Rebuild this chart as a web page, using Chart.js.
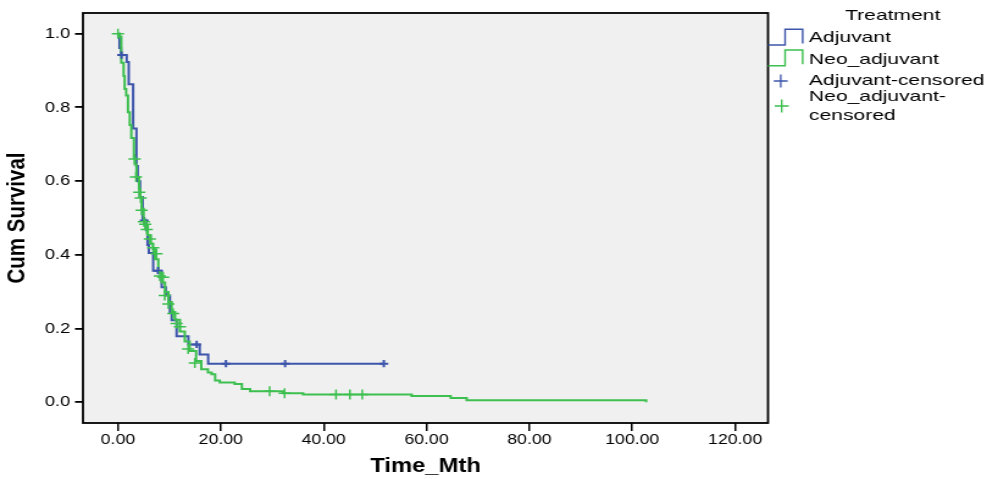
<!DOCTYPE html>
<html>
<head>
<meta charset="utf-8">
<title>Cum Survival - Time_Mth</title>
<script src="https://cdn.jsdelivr.net/npm/chart.js@4.4.0/dist/chart.umd.min.js"></script>
<style>
  html, body { margin: 0; padding: 0; background: #fff; }
  #km { display: block; }
</style>
</head>
<body>
<canvas id="km" width="818" height="479" style="width:998px;height:479px"></canvas>
<script>
// Données (temps en mois, survie cumulée)
const adjTime = [0, 0.3, 0.6, 1.7, 2.1, 2.95, 3.6, 3.85, 4.3, 4.8, 5.5, 5.75, 6.0, 6.85, 8.5, 9.3, 10.1, 10.45, 11.4, 13.7, 15.9, 17.55, 51.7];
const adjSurv = [1.0, 0.961, 0.942, 0.923, 0.863, 0.743, 0.641, 0.6, 0.557, 0.493, 0.467, 0.427, 0.405, 0.357, 0.312, 0.29, 0.245, 0.223, 0.179, 0.157, 0.13, 0.105, 0.105];

const neoTime = [0, 0.3, 0.65, 1.1, 1.3, 1.6, 1.95, 2.3, 2.6, 3.1, 3.3, 3.6, 4.1, 4.3, 4.6, 5.0, 5.4, 5.8, 6.4, 6.8, 7.2, 7.85, 8.5, 9.15, 9.8, 10.45, 11.1, 12.05, 13.0, 13.95, 15.2, 16.2, 17.5, 18.2, 18.9, 19.8, 22.7, 24.1, 25.7, 32.1, 36.0, 57.1, 64.7, 67.8, 102.7];
const neoSurv = [1.0, 0.992, 0.921, 0.885, 0.85, 0.832, 0.787, 0.752, 0.717, 0.664, 0.645, 0.611, 0.579, 0.557, 0.525, 0.495, 0.478, 0.453, 0.43, 0.416, 0.388, 0.352, 0.325, 0.299, 0.272, 0.245, 0.224, 0.192, 0.165, 0.139, 0.112, 0.09, 0.081, 0.076, 0.059, 0.054, 0.05, 0.036, 0.03, 0.025, 0.021, 0.017, 0.0115, 0.006, 0];

// Observations censurées
const adjCensTime = [0.7, 5.1, 7.8, 15.3, 21.0, 32.5, 51.7];
const adjCensSurv = [0.942, 0.493, 0.357, 0.157, 0.105, 0.105, 0.105];
const neoCensTime = [0, 3.24, 3.5, 4.14, 4.41, 4.6, 5.05, 5.3, 5.6, 6.2, 6.85, 7.5, 8.15, 8.8, 9.1, 9.8, 10.75, 11.4, 12.05, 13.65, 14.95, 29.5, 32.4, 42.4, 45.1, 47.5];
const neoCensSurv = [1.0, 0.66, 0.611, 0.57, 0.554, 0.521, 0.49, 0.483, 0.469, 0.443, 0.419, 0.403, 0.343, 0.339, 0.29, 0.267, 0.241, 0.214, 0.205, 0.145, 0.107, 0.03, 0.025, 0.021, 0.021, 0.021];

const xTicks = [0, 20, 40, 60, 80, 100, 120];
const yTicks = [0, 0.2, 0.4, 0.6, 0.8, 1.0];

const legendTitle = "Treatment";
const legendLabels = ["Adjuvant", "Neo_adjuvant", "Adjuvant-censored", ["Neo_adjuvant-", "censored"]];

const BLUE = "#3d55ab";
const GREEN = "#3cbf4e";
const FONT = "'Liberation Sans', Arial, sans-serif";

function toPoints(xs, ys) {
  return xs.map((x, i) => ({ x: x, y: ys[i] }));
}

// Fond gris, cadre et légende
const framePlugin = {
  id: "frame",
  beforeDraw(chart) {
    const ctx = chart.ctx;
    const a = chart.chartArea;
    ctx.save();
    ctx.fillStyle = "#fff";
    ctx.fillRect(0, 0, chart.width, chart.height);
    ctx.fillStyle = "#f0f0f0";
    ctx.fillRect(a.left, a.top, a.right - a.left, a.bottom - a.top);
    ctx.restore();
  },
  afterDraw(chart) {
    const ctx = chart.ctx;
    const a = chart.chartArea;
    ctx.save();
    ctx.strokeStyle = "#000";
    ctx.lineWidth = 1.8;
    ctx.strokeRect(a.left, a.top, a.right - a.left, a.bottom - a.top);

    const x0 = a.right;
    const textX = x0 + 33.6;

    function stepIcon(color, yb, yt) {
      ctx.beginPath();
      ctx.strokeStyle = color;
      ctx.lineWidth = 1.4;
      ctx.moveTo(x0, yb);
      ctx.lineTo(x0 + 14, yb);
      ctx.lineTo(x0 + 14, yt);
      ctx.lineTo(x0 + 28.4, yt);
      ctx.lineTo(x0 + 28.4, yb - 1.5);
      ctx.stroke();
    }
    function plusIcon(color, cx, cy) {
      ctx.beginPath();
      ctx.strokeStyle = color;
      ctx.lineWidth = 1.3;
      ctx.moveTo(cx - 5.7, cy);
      ctx.lineTo(cx + 5.7, cy);
      ctx.moveTo(cx, cy - 6.5);
      ctx.lineTo(cx, cy + 6.5);
      ctx.stroke();
    }
    function label(text, x, y, align) {
      ctx.save();
      ctx.translate(x, y);
      ctx.scale(1.15, 1);
      ctx.fillStyle = "#000";
      ctx.font = "15px " + FONT;
      ctx.textAlign = align;
      ctx.textBaseline = "middle";
      ctx.fillText(text, 0, 0);
      ctx.restore();
    }

    label(legendTitle, 731.7, 16, "center");
    stepIcon(BLUE, 45, 29.3);
    label(legendLabels[0], textX, 38, "left");
    stepIcon(GREEN, 65.7, 50);
    label(legendLabels[1], textX, 59.5, "left");
    plusIcon(BLUE, x0 + 10.4, 81);
    label(legendLabels[2], textX, 80.5, "left");
    plusIcon(GREEN, x0 + 11.2, 106);
    label(legendLabels[3][0], textX, 97, "left");
    label(legendLabels[3][1], textX, 116, "left");
    ctx.restore();
  }
};

document.addEventListener("DOMContentLoaded", function () {
  const ctx = document.getElementById("km").getContext("2d");
  new Chart(ctx, {
    type: "line",
    data: {
      datasets: [
        {
          label: "Adjuvant",
          data: toPoints(adjTime, adjSurv),
          borderColor: BLUE,
          borderWidth: 2,
          stepped: "before",
          pointRadius: 0,
          fill: false,
          order: 4
        },
        {
          label: "Neo_adjuvant",
          data: toPoints(neoTime, neoSurv),
          borderColor: GREEN,
          borderWidth: 2,
          stepped: "before",
          pointRadius: 0,
          fill: false,
          order: 3
        },
        {
          label: "Adjuvant-censored",
          data: toPoints(adjCensTime, adjCensSurv),
          showLine: false,
          pointStyle: "cross",
          pointRadius: 3.6,
          pointBorderWidth: 2,
          pointBorderColor: BLUE,
          pointBackgroundColor: BLUE,
          order: 2
        },
        {
          label: "Neo_adjuvant-censored",
          data: toPoints(neoCensTime, neoCensSurv),
          showLine: false,
          pointStyle: "cross",
          pointRadius: 5,
          pointBorderWidth: 1.5,
          pointBorderColor: GREEN,
          pointBackgroundColor: GREEN,
          order: 1
        }
      ]
    },
    options: {
      responsive: false,
      animation: false,
      devicePixelRatio: 1,
      layout: { padding: { top: 6, right: 188.5, left: 0, bottom: 0 } },
      plugins: {
        legend: { display: false },
        tooltip: { enabled: false }
      },
      scales: {
        x: {
          type: "linear",
          min: -6.8,
          max: 126.4,
          afterBuildTicks: (s) => { s.ticks = xTicks.map((v) => ({ value: v })); },
          afterFit: (s) => { s.height = 56; },
          ticks: {
            callback: (v) => Number(v).toFixed(2),
            color: "#000",
            font: { family: FONT, size: 14.5 },
            padding: 0,
            maxRotation: 0,
            autoSkip: false
          },
          grid: { drawOnChartArea: false, drawTicks: true, tickLength: 8, color: "#000", lineWidth: 1.5 },
          border: { display: false },
          title: {
            display: true,
            text: "Time_Mth",
            color: "#000",
            font: { family: FONT, size: 19.5, weight: "bold" },
            padding: { top: 1, bottom: 1 }
          }
        },
        y: {
          type: "linear",
          min: -0.056,
          max: 1.056,
          afterBuildTicks: (s) => { s.ticks = yTicks.map((v) => ({ value: v })); },
          afterFit: (s) => { s.width = 68; },
          ticks: {
            callback: (v) => Number(v).toFixed(1),
            color: "#000",
            font: { family: FONT, size: 15 },
            padding: 4
          },
          grid: { drawOnChartArea: false, drawTicks: true, tickLength: 6.5, color: "#000", lineWidth: 1.8 },
          border: { display: false },
          title: {
            display: true,
            text: "Cum Survival",
            color: "#000",
            font: { family: FONT, size: 20.5, weight: "bold" },
            padding: { top: 2, bottom: 2 }
          }
        }
      }
    },
    plugins: [framePlugin]
  });
});
</script>
</body>
</html>
